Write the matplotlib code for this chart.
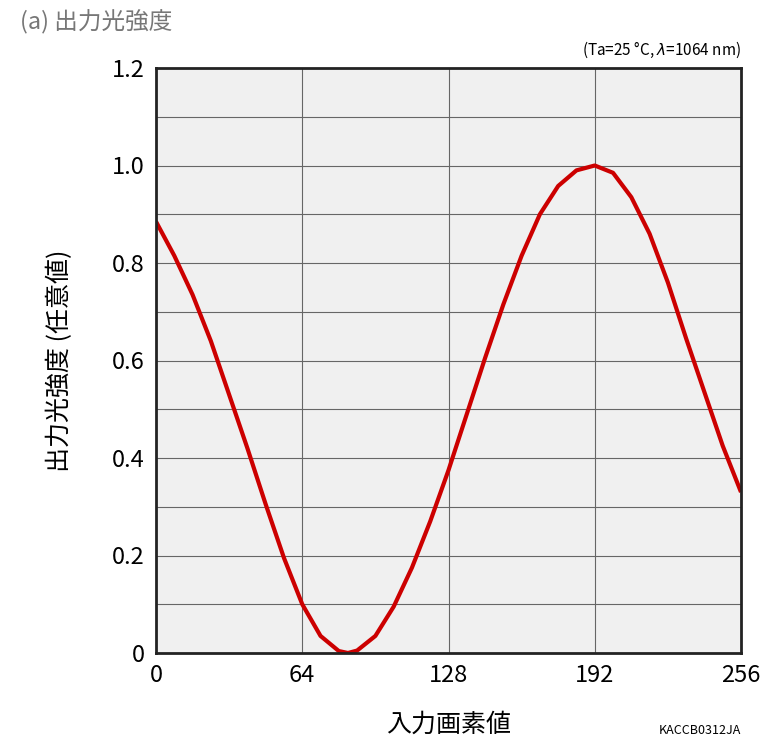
import matplotlib
matplotlib.use("Agg")
import matplotlib.pyplot as plt

plt.rcParams['font.family'] = ['Noto Sans CJK JP', 'DejaVu Sans']

x_vals = [0, 8, 16, 24, 32, 40, 48, 56, 64, 72, 80, 84, 88, 96, 104, 112, 120, 128,
          136, 144, 152, 160, 168, 176, 184, 192, 200, 208, 216, 224, 232, 240, 248, 256]
y_vals = [0.885, 0.815, 0.735, 0.64, 0.53, 0.42, 0.305, 0.195, 0.10, 0.035, 0.004, 0.0, 0.005,
          0.035, 0.095, 0.175, 0.27, 0.375, 0.49, 0.605, 0.715, 0.815, 0.9, 0.958, 0.99, 1.0,
          0.985, 0.935, 0.86, 0.76, 0.645, 0.535, 0.425, 0.33]
x_ticks = [0, 64, 128, 192, 256]
y_ticks = [0, 0.2, 0.4, 0.6, 0.8, 1.0, 1.2]
y_tick_labels = ['0', '0.2', '0.4', '0.6', '0.8', '1.0', '1.2']

fig = plt.figure(figsize=(7.68, 7.51), dpi=100)
ax = fig.add_axes([156/768, 1-653/751, 585/768, 585/751])
ax.set_facecolor('#f0f0f0')
ax.plot(x_vals, y_vals, color='#cc0000', lw=3, solid_joinstyle='round', solid_capstyle='butt')
ax.set_xlim(0, 256)
ax.set_ylim(0, 1.2)
for v in [64, 128, 192]:
    ax.axvline(v, color='#666666', lw=0.8, zorder=0)
for i in range(1, 12):
    ax.axhline(i/10, color='#666666', lw=0.8, zorder=0)
ax.set_xticks(x_ticks)
ax.set_xticklabels([str(t) for t in x_ticks], fontsize=17)
ax.set_yticks(y_ticks)
ax.set_yticklabels(y_tick_labels, fontsize=17)
ax.tick_params(length=0, pad=8)
for s in ax.spines.values():
    s.set_linewidth(2)
    s.set_color('#222222')
ax.set_xlabel('入力画素値', fontsize=18, labelpad=18)
ax.set_ylabel('出力光強度 (任意値)', fontsize=18, labelpad=28)
fig.text(20/768, 1-22/751, '(a) 出力光強度', fontsize=17, color='#777777', va='center')
fig.text(741/768, 1-50/751, '(Ta=25 °C, $\\lambda$=1064 nm)', fontsize=11, ha='right', va='center')
fig.text(741/768, 1-730/751, 'KACCB0312JA', fontsize=9, ha='right', va='center')
fig.savefig('out.png', dpi=100)
